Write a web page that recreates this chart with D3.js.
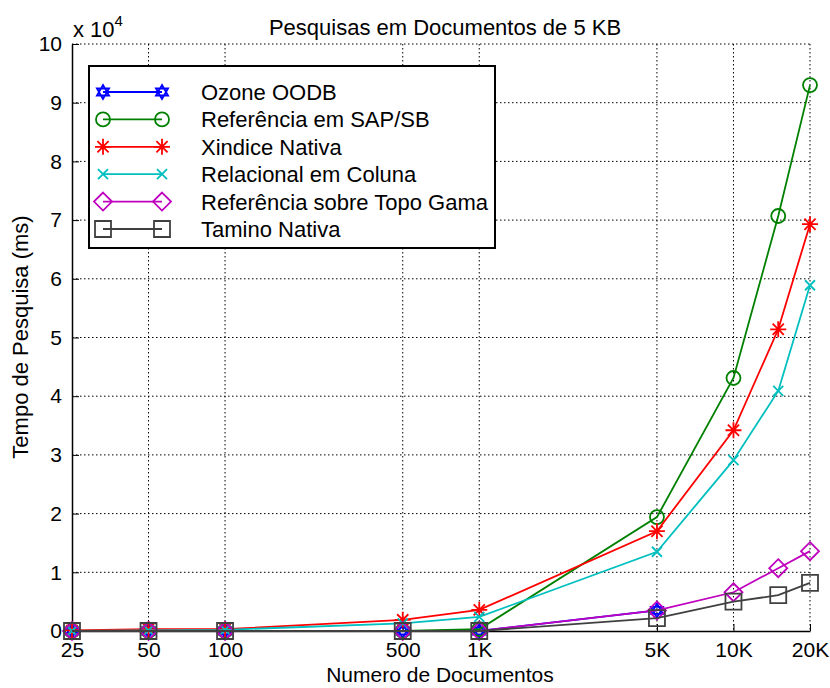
<!DOCTYPE html>
<html>
<head>
<meta charset="utf-8">
<script src="https://cdn.jsdelivr.net/npm/d3@7"></script>
<style>
  body { margin: 0; background: #fff; }
  text { font-family: "Liberation Sans", Arial, sans-serif; fill: #000; }
</style>
</head>
<body>
<svg id="chart" width="830" height="688"></svg>
<script>
// documents (x values) and search times in ms
var docs = [25, 50, 100, 500, 1000, 5000, 10000, 15000, 20000];
var docTicks = [25, 50, 100, 500, 1000, 5000, 10000, 20000];
var docTickLabels = ['25', '50', '100', '500', '1K', '5K', '10K', '20K'];
var yTicks = [0, 10000, 20000, 30000, 40000, 50000, 60000, 70000, 80000, 90000, 100000];

var ozone    = [0, 0, 0, 0, 0, 3500];
var sapsb    = [0, 0, 0, 0, 300, 19400, 43100, 70700, 93000];
var xindice  = [100, 300, 300, 1900, 3600, 17000, 34200, 51400, 69300];
var relacional = [0, 100, 200, 1300, 2400, 13500, 29100, 40900, 58900];
var topoGama = [0, 0, 0, 0, 0, 3500, 6600, 10700, 13600];
var tamino   = [0, 0, 0, 0, 0, 2200, 5000, 6100, 8200];

var seriesNames = ['Ozone OODB', 'Referência em SAP/SB', 'Xindice Nativa',
  'Relacional em Coluna', 'Referência sobre Topo Gama', 'Tamino Nativa'];
var seriesValues = [ozone, sapsb, xindice, relacional, topoGama, tamino];
var colors = ['#0000ff', '#008000', '#ff0000', '#00bfbf', '#bf00bf', '#404040'];
var markers = ['hexagram', 'circle', 'asterisk', 'cross', 'diamond', 'square'];

var svg = d3.select('#chart'),
	margin = {top: 44, right: 20, bottom: 57, left: 72},
	width = 810 - margin.left,
	height = 631 - margin.top;

var x = d3.scaleLog().domain([25, 20000]).range([0, width]),
	y = d3.scaleLinear().domain([0, 100000]).range([height, 0]);

var g = svg.append('g')
	.attr('transform', 'translate(' + margin.left + ',' + margin.top + ')');

// dotted grid
g.selectAll('.vgrid')
	.data(docTicks.slice(1))
	.enter().append('line')
	.attr('x1', function(d) { return x(d); })
	.attr('x2', function(d) { return x(d); })
	.attr('y1', 0).attr('y2', height)
	.attr('stroke', '#000').attr('stroke-width', 1)
	.attr('stroke-dasharray', '1.5,2.5');

g.selectAll('.hgrid')
	.data(yTicks.slice(1))
	.enter().append('line')
	.attr('x1', 0).attr('x2', width)
	.attr('y1', function(d) { return y(d); })
	.attr('y2', function(d) { return y(d); })
	.attr('stroke', '#000').attr('stroke-width', 1)
	.attr('stroke-dasharray', '1.5,2.5');

// axes
var xAxis = g.append('g')
	.attr('transform', 'translate(0,' + height + ')')
	.call(d3.axisBottom(x).tickValues(docTicks)
		.tickFormat(function(d, i) { return docTickLabels[i]; })
		.tickSizeInner(-7).tickSizeOuter(0).tickPadding(11));

var yAxis = g.append('g')
	.call(d3.axisLeft(y).tickValues(yTicks)
		.tickFormat(function(d) { return d / 10000; })
		.tickSizeInner(-7).tickSizeOuter(0).tickPadding(10));

[xAxis, yAxis].forEach(function(a) {
	a.select('.domain').attr('stroke', '#000').attr('stroke-width', 1.5);
	a.selectAll('.tick line').attr('stroke', '#000').attr('stroke-width', 1);
	a.selectAll('.tick text').attr('font-size', 21)
		.attr('font-family', '"Liberation Sans", Arial, sans-serif').attr('fill', '#000');
});

// marker shapes
function markerPath(type, s) {
	var p = d3.path();
	if (type === 'circle') {
		p.moveTo(s, 0); p.arc(0, 0, s, 0, 2 * Math.PI);
	} else if (type === 'square') {
		p.rect(-s, -s, 2 * s, 2 * s);
	} else if (type === 'diamond') {
		p.moveTo(0, -s); p.lineTo(s, 0); p.lineTo(0, s); p.lineTo(-s, 0); p.closePath();
	} else if (type === 'cross') {
		p.moveTo(-s, -s); p.lineTo(s, s); p.moveTo(-s, s); p.lineTo(s, -s);
	} else if (type === 'asterisk') {
		p.moveTo(-s, 0); p.lineTo(s, 0); p.moveTo(0, -s); p.lineTo(0, s);
		var k = s * 0.7;
		p.moveTo(-k, -k); p.lineTo(k, k); p.moveTo(-k, k); p.lineTo(k, -k);
	} else if (type === 'hexagram') {
		for (var t = 0; t < 2; t++) {
			for (var i = 0; i < 3; i++) {
				var a = -Math.PI / 2 + t * Math.PI + i * 2 * Math.PI / 3;
				if (i === 0) p.moveTo(s * Math.cos(a), s * Math.sin(a));
				else p.lineTo(s * Math.cos(a), s * Math.sin(a));
			}
			p.closePath();
		}
	}
	return p.toString();
}
var markerSize = {hexagram: 7, circle: 7, asterisk: 8, cross: 5, diamond: 9, square: 8};

var line = d3.line()
	.x(function(d) { return x(d[0]); })
	.y(function(d) { return y(d[1]); });

seriesValues.forEach(function(vals, si) {
	var pts = vals.map(function(v, i) { return [docs[i], v]; });
	g.append('path')
		.datum(pts)
		.attr('d', line)
		.attr('fill', 'none')
		.attr('stroke', colors[si])
		.attr('stroke-width', 1.8);
	g.selectAll('.m' + si)
		.data(pts)
		.enter().append('path')
		.attr('transform', function(d) { return 'translate(' + x(d[0]) + ',' + y(d[1]) + ')'; })
		.attr('d', markerPath(markers[si], markerSize[markers[si]]))
		.attr('fill', 'none')
		.attr('stroke', colors[si])
		.attr('stroke-width', 1.8);
});

// legend
var legend = svg.append('g').attr('transform', 'translate(89,66)');
legend.append('rect')
	.attr('width', 406).attr('height', 182)
	.attr('fill', '#fff').attr('stroke', '#000').attr('stroke-width', 2);

seriesNames.forEach(function(name, si) {
	var ly = 26 + si * 27.4;
	var row = legend.append('g').attr('transform', 'translate(0,' + ly + ')');
	row.append('line')
		.attr('x1', 14).attr('x2', 73).attr('y1', 0).attr('y2', 0)
		.attr('stroke', colors[si]).attr('stroke-width', 1.8);
	[14, 73].forEach(function(mx) {
		row.append('path')
			.attr('transform', 'translate(' + mx + ',0)')
			.attr('d', markerPath(markers[si], markerSize[markers[si]]))
			.attr('fill', 'none').attr('stroke', colors[si]).attr('stroke-width', 1.8);
	});
	row.append('text')
		.attr('x', 112).attr('y', 8)
		.attr('font-size', 22)
		.text(name);
});

// titles
svg.append('text')
	.attr('x', 445).attr('y', 35)
	.attr('text-anchor', 'middle').attr('font-size', 22)
	.text('Pesquisas em Documentos de 5 KB');

svg.append('text')
	.attr('x', 440).attr('y', 682)
	.attr('text-anchor', 'middle').attr('font-size', 21)
	.text('Numero de Documentos');

svg.append('text')
	.attr('transform', 'translate(28,337) rotate(-90)')
	.attr('text-anchor', 'middle').attr('font-size', 22)
	.text('Tempo de Pesquisa (ms)');

var mult = svg.append('text')
	.attr('x', 73).attr('y', 37).attr('font-size', 22);
mult.append('tspan').text('x 10');
mult.append('tspan').attr('dy', -11).attr('font-size', 15).text('4');
</script>
</body>
</html>
